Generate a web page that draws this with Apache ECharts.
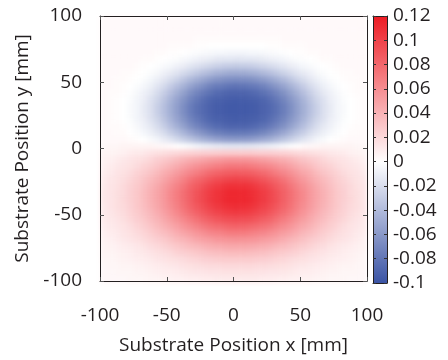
<!DOCTYPE html>
<html>
<head>
<meta charset="utf-8">
<script src="https://cdn.jsdelivr.net/npm/echarts@6/dist/echarts.min.js"></script>
<style>
html,body{margin:0;padding:0;background:#fff;}
#wrap{position:relative;width:448px;height:360px;}
#field,#chart{position:absolute;left:0;top:0;width:448px;height:360px;}
#field{filter:blur(2px);}
</style>
</head>
<body>
<div id="wrap"><div id="field"></div><div id="chart"></div></div>
<script>
// ---- data (field values in units of 0.001) ----
const xCenters = [-97.5,-92.5,-87.5,-82.5,-77.5,-72.5,-67.5,-62.5,-57.5,-52.5,-47.5,-42.5,-37.5,-32.5,-27.5,-22.5,-17.5,-12.5,-7.5,-2.5,
                  2.5,7.5,12.5,17.5,22.5,27.5,32.5,37.5,42.5,47.5,52.5,57.5,62.5,67.5,72.5,77.5,82.5,87.5,92.5,97.5];
const yCenters = [97.5,92.5,87.5,82.5,77.5,72.5,67.5,62.5,57.5,52.5,47.5,42.5,37.5,32.5,27.5,22.5,17.5,12.5,7.5,2.5,
                  -2.5,-7.5,-12.5,-17.5,-22.5,-27.5,-32.5,-37.5,-42.5,-47.5,-52.5,-57.5,-62.5,-67.5,-72.5,-77.5,-82.5,-87.5,-92.5,-97.5];
const fieldMilli = [
[3,3,3,3,3,3,3,3,3,3,3,3,3,3,3,3,3,3,3,3,3,3,3,3,3,3,3,3,3,3,3,3,3,3,3,3,3,3,3,3],
[3,3,3,3,3,3,3,3,3,3,3,3,3,3,3,3,3,3,3,3,3,3,3,3,3,3,3,3,3,3,3,3,3,3,3,3,3,3,3,3],
[3,3,3,3,3,3,3,3,3,3,3,3,3,3,3,3,3,3,3,3,3,3,3,3,3,3,3,3,3,3,3,3,3,3,3,3,3,3,3,3],
[3,3,3,3,3,3,3,3,3,3,3,3,3,3,2,2,2,2,2,2,2,2,2,2,2,2,2,3,3,3,3,3,3,3,3,3,3,3,3,3],
[3,3,3,3,3,3,3,3,3,3,2,2,2,2,1,1,0,0,0,0,0,0,0,0,0,1,1,2,2,2,2,3,3,3,3,3,3,3,3,3],
[3,3,3,3,3,3,3,3,2,2,1,1,0,-1,-2,-3,-4,-5,-5,-6,-6,-6,-5,-5,-4,-3,-2,-1,0,1,1,2,2,3,3,3,3,3,3,3],
[3,3,3,3,3,3,2,2,1,0,-1,-2,-4,-6,-8,-10,-12,-14,-15,-15,-16,-15,-15,-14,-12,-10,-8,-6,-4,-2,-1,0,1,2,2,3,3,3,3,3],
[3,3,3,3,3,2,1,0,-1,-3,-5,-8,-11,-15,-18,-21,-24,-27,-29,-30,-31,-30,-29,-27,-24,-21,-18,-15,-11,-8,-5,-3,-1,0,1,2,3,3,3,3],
[3,3,3,2,2,1,0,-2,-4,-8,-12,-16,-21,-26,-31,-36,-40,-44,-46,-48,-48,-48,-46,-44,-40,-36,-31,-26,-21,-16,-12,-8,-4,-2,0,1,2,2,3,3],
[3,3,2,2,1,0,-2,-5,-9,-14,-20,-26,-33,-40,-46,-52,-57,-61,-64,-65,-66,-65,-64,-61,-57,-52,-46,-40,-33,-26,-20,-14,-9,-5,-2,0,1,2,2,3],
[3,3,2,1,0,-2,-5,-9,-15,-21,-29,-37,-45,-53,-60,-66,-72,-76,-78,-80,-81,-80,-78,-76,-72,-66,-60,-53,-45,-37,-29,-21,-15,-9,-5,-2,0,1,2,3],
[3,2,2,1,-1,-4,-8,-13,-20,-28,-37,-46,-55,-64,-71,-77,-82,-86,-88,-90,-90,-90,-88,-86,-82,-77,-71,-64,-55,-46,-37,-28,-20,-13,-8,-4,-1,1,2,2],
[3,2,1,0,-2,-6,-10,-17,-24,-33,-43,-53,-62,-71,-78,-84,-89,-92,-93,-94,-95,-94,-93,-92,-89,-84,-78,-71,-62,-53,-43,-33,-24,-17,-10,-6,-2,0,1,2],
[3,2,1,0,-3,-6,-12,-18,-27,-36,-46,-56,-66,-75,-82,-87,-91,-94,-95,-96,-96,-96,-95,-94,-91,-87,-82,-75,-66,-56,-46,-36,-27,-18,-12,-6,-3,0,1,2],
[3,2,1,0,-3,-6,-12,-18,-27,-36,-46,-56,-66,-75,-82,-87,-91,-94,-95,-96,-96,-96,-95,-94,-91,-87,-82,-75,-66,-56,-46,-36,-27,-18,-12,-6,-3,0,1,2],
[3,2,1,0,-2,-6,-10,-17,-24,-33,-43,-53,-62,-71,-78,-84,-89,-92,-93,-94,-95,-94,-93,-92,-89,-84,-78,-71,-62,-53,-43,-33,-24,-17,-10,-6,-2,0,1,2],
[3,2,2,1,-1,-4,-8,-13,-20,-28,-37,-46,-55,-64,-71,-77,-82,-86,-88,-90,-90,-90,-88,-86,-82,-77,-71,-64,-55,-46,-37,-28,-20,-13,-8,-4,-1,1,2,2],
[3,3,2,2,0,-2,-5,-9,-14,-20,-28,-35,-43,-51,-58,-64,-70,-74,-76,-78,-78,-78,-76,-74,-70,-64,-58,-51,-43,-35,-28,-20,-14,-9,-5,-2,0,2,2,3],
[3,3,3,3,2,1,0,-3,-6,-11,-16,-22,-28,-34,-40,-46,-50,-54,-57,-58,-59,-58,-57,-54,-50,-46,-40,-34,-28,-22,-16,-11,-6,-3,0,1,2,3,3,3],
[4,5,5,6,6,6,6,6,5,4,3,1,-2,-4,-7,-9,-11,-13,-14,-15,-15,-15,-14,-13,-11,-9,-7,-4,-2,1,3,4,5,6,6,6,6,6,5,5],
[6,6,7,8,10,11,12,14,16,17,19,20,22,23,24,25,25,26,27,27,27,27,27,26,25,25,24,23,22,20,19,17,16,14,12,11,10,8,7,6],
[7,8,10,12,14,16,18,21,25,28,31,35,39,42,45,48,51,53,55,56,56,56,55,53,51,48,45,42,39,35,31,28,25,21,18,16,14,12,10,8],
[8,10,12,14,16,19,23,26,30,35,39,44,49,54,58,62,65,68,70,72,72,72,70,68,65,62,58,54,49,44,39,35,30,26,23,19,16,14,12,10],
[9,11,14,16,19,23,27,31,36,42,47,53,59,64,69,74,79,82,85,86,87,86,85,82,79,74,69,64,59,53,47,42,36,31,27,23,19,16,14,11],
[10,13,15,18,22,26,31,36,41,47,54,60,67,74,80,85,90,94,97,99,100,99,97,94,90,85,80,74,67,60,54,47,41,36,31,26,22,18,15,13],
[11,14,16,20,24,28,33,39,45,52,59,66,73,81,87,93,99,103,107,109,109,109,107,103,99,93,87,81,73,66,59,52,45,39,33,28,24,20,16,14],
[12,14,17,20,25,29,35,41,47,54,62,69,77,84,91,98,103,108,111,114,114,114,111,108,103,98,91,84,77,69,62,54,47,41,35,29,25,20,17,14],
[12,14,17,21,25,29,35,41,47,54,62,69,77,84,92,98,104,108,112,114,114,114,112,108,104,98,92,84,77,69,62,54,47,41,35,29,25,21,17,14],
[11,14,17,20,24,29,34,40,46,53,60,67,75,82,89,95,100,105,108,110,111,110,108,105,100,95,89,82,75,67,60,53,46,40,34,29,24,20,17,14],
[11,13,16,19,23,27,32,37,43,49,56,63,70,77,83,89,94,98,101,103,104,103,101,98,94,89,83,77,70,63,56,49,43,37,32,27,23,19,16,13],
[10,12,14,17,21,25,29,34,39,45,51,57,63,69,75,81,85,89,92,93,94,93,92,89,85,81,75,69,63,57,51,45,39,34,29,25,21,17,14,12],
[9,11,13,15,18,22,26,30,35,40,45,50,56,61,66,71,75,78,80,82,83,82,80,78,75,71,66,61,56,50,45,40,35,30,26,22,18,15,13,11],
[8,10,11,14,16,19,22,26,30,34,38,43,48,52,56,60,64,66,68,70,70,70,68,66,64,60,56,52,48,43,38,34,30,26,22,19,16,14,11,10],
[7,8,10,12,14,16,19,22,25,28,32,36,39,43,47,50,52,55,56,57,58,57,56,55,52,50,47,43,39,36,32,28,25,22,19,16,14,12,10,8],
[6,7,8,10,11,13,15,18,20,23,26,29,32,35,37,40,42,44,45,46,46,46,45,44,42,40,37,35,32,29,26,23,20,18,15,13,11,10,8,7],
[6,6,7,8,9,11,12,14,16,18,20,23,25,27,29,31,33,34,35,36,36,36,35,34,33,31,29,27,25,23,20,18,16,14,12,11,9,8,7,6],
[5,5,6,7,8,9,10,11,13,14,16,17,19,21,22,24,25,26,27,27,27,27,27,26,25,24,22,21,19,17,16,14,13,11,10,9,8,7,6,5],
[4,5,5,6,6,7,8,9,10,11,12,13,15,16,17,18,19,19,20,20,20,20,20,19,19,18,17,16,15,13,12,11,10,9,8,7,6,6,5,5],
[4,4,5,5,5,6,6,7,8,9,9,10,11,12,13,13,14,14,15,15,15,15,15,14,14,13,13,12,11,10,9,9,8,7,6,6,5,5,5,4],
[4,4,4,4,5,5,5,6,6,7,7,8,8,9,9,10,10,11,11,11,11,11,11,11,10,10,9,9,8,8,7,7,6,6,5,5,5,4,4,4]
];
const axisTicks = [-100, -50, 0, 50, 100];
const colorTicks = [-0.1,-0.08,-0.06,-0.04,-0.02,0,0.02,0.04,0.06,0.08,0.1,0.12];
const palette = ['#3a53a4','#6175b6','#8998c8','#b0badb','#d8dded','#ffffff',
                 '#fcd9db','#f9b3b6','#f68e92','#f3686d','#f04249','#ed1c24'];

// ---- build series data ----
fieldMilli.forEach((row, r) => { if (row.length !== xCenters.length) throw new Error('row ' + r + ' has ' + row.length); });
if (fieldMilli.length !== yCenters.length) throw new Error('rows ' + fieldMilli.length);
const fieldData = [];
yCenters.forEach((y, r) => {
  xCenters.forEach((x, c) => { fieldData.push([x, y, fieldMilli[r][c] / 1000]); });
});
const barData = [];
for (let i = 0; i < colorTicks.length - 1; i++) barData.push([colorTicks[i], colorTicks[i + 1]]);
const halfCell = (xCenters[1] - xCenters[0]) / 2;

const FONT = '"Open Sans", sans-serif';
const TXT = '#231f20';
const FS = 19;
const GRID_MAIN = { left: 100, top: 16, width: 267, height: 267 };
const GRID_CB = { left: 373, top: 16, width: 14, height: 267 };
const xMin = axisTicks[0], xMax = axisTicks[axisTicks.length - 1];

// ---- field layer ----
const field = echarts.init(document.getElementById('field'), null, { renderer: 'canvas' });
field.setOption({
  animation: false,
  grid: [GRID_MAIN],
  xAxis: [{ type: 'value', min: xMin, max: xMax, show: false }],
  yAxis: [{ type: 'value', min: xMin, max: xMax, show: false }],
  visualMap: {
    show: false, type: 'continuous', min: colorTicks[0], max: colorTicks[colorTicks.length - 1],
    dimension: 2, seriesIndex: 0, inRange: { color: palette }
  },
  series: [{
    type: 'custom', clip: true, encode: { x: 0, y: 1 }, data: fieldData,
    renderItem: function (params, api) {
      const x = api.value(0), y = api.value(1);
      const p0 = api.coord([x - halfCell, y + halfCell]);
      const p1 = api.coord([x + halfCell, y - halfCell]);
      return {
        type: 'rect',
        shape: { x: p0[0], y: p0[1], width: p1[0] - p0[0] + 0.6, height: p1[1] - p0[1] + 0.6 },
        style: { fill: api.visual('color') }
      };
    }
  }]
});

// ---- axes, frame and colour bar ----
const mainAxisCommon = {
  type: 'value', min: xMin, max: xMax, interval: 50, z: 10,
  axisLine: { show: true, onZero: false, lineStyle: { color: '#231f20', width: 1 } },
  axisTick: { show: true, inside: true, length: 4, lineStyle: { color: '#555', width: 1 } },
  splitLine: { show: false }
};
const cbAxisCommon = {
  type: 'value', min: colorTicks[0], max: colorTicks[colorTicks.length - 1], interval: 0.02, gridIndex: 1, z: 10,
  axisLine: { show: true, onZero: false, lineStyle: { color: '#231f20', width: 1 } },
  axisTick: { show: true, inside: true, length: 3, lineStyle: { color: '#333', width: 1 } },
  splitLine: { show: false }
};
const cbFrameX = {
  type: 'value', gridIndex: 1, min: 0, max: 1, z: 10,
  axisLine: { show: true, onZero: false, lineStyle: { color: '#231f20' } }, axisTick: { show: false },
  axisLabel: { show: false }, splitLine: { show: false }
};

const chart = echarts.init(document.getElementById('chart'), null, { renderer: 'canvas' });
chart.setOption({
  animation: false,
  backgroundColor: 'transparent',
  textStyle: { fontFamily: FONT },
  grid: [GRID_MAIN, GRID_CB],
  xAxis: [
    Object.assign({}, mainAxisCommon, { gridIndex: 0, position: 'bottom',
      axisLabel: { show: true, margin: 25, fontSize: FS, color: TXT, fontFamily: FONT },
      name: 'Substrate Position x [mm]', nameLocation: 'middle', nameGap: 55,
      nameTextStyle: { fontSize: FS, color: TXT, fontFamily: FONT } }),
    Object.assign({}, mainAxisCommon, { gridIndex: 0, position: 'top', axisLabel: { show: false } }),
    Object.assign({}, cbFrameX, { position: 'bottom' }),
    Object.assign({}, cbFrameX, { position: 'top' })
  ],
  yAxis: [
    Object.assign({}, mainAxisCommon, { gridIndex: 0, position: 'left',
      axisLabel: { show: true, margin: 18, fontSize: FS, color: TXT, fontFamily: FONT },
      name: 'Substrate Position y [mm]', nameLocation: 'middle', nameGap: 66, nameRotate: 90,
      nameTextStyle: { fontSize: FS, color: TXT, fontFamily: FONT } }),
    Object.assign({}, mainAxisCommon, { gridIndex: 0, position: 'right', axisLabel: { show: false } }),
    Object.assign({}, cbAxisCommon, { position: 'left', axisLabel: { show: false } }),
    Object.assign({}, cbAxisCommon, { position: 'right',
      axisLabel: { show: true, margin: 6, fontSize: FS, color: TXT, fontFamily: FONT } })
  ],
  series: [{
    type: 'custom', xAxisIndex: 2, yAxisIndex: 3, clip: true,
    encode: { y: [0, 1] },
    data: barData,
    renderItem: function (params, api) {
      const i = params.dataIndex;
      const lo = api.value(0), hi = api.value(1);
      const pTop = api.coord([0, hi]);
      const pBot = api.coord([1, lo]);
      return {
        type: 'rect',
        shape: { x: pTop[0], y: pTop[1], width: pBot[0] - pTop[0], height: pBot[1] - pTop[1] + 0.6 },
        style: { fill: new echarts.graphic.LinearGradient(0, 0, 0, 1, [
          { offset: 0, color: palette[i + 1] }, { offset: 1, color: palette[i] }
        ]) }
      };
    },
    z: 1
  }]
});
</script>
</body>
</html>
